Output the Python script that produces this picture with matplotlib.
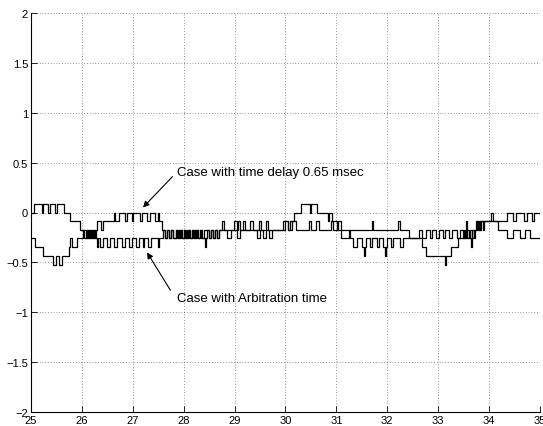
import matplotlib
matplotlib.use("Agg")
import matplotlib.pyplot as plt

# ---- data: step traces (breakpoint times, level after breakpoint) ----
delay_t = [25.00, 25.06, 25.21, 25.24, 25.34, 25.37, 25.48, 25.51, 25.64, 25.77,
           25.96, 26.08, 26.10, 26.14, 26.16, 26.20, 26.22, 26.25, 26.27, 26.29,
           26.37, 26.41, 26.64, 26.66, 26.72, 26.85, 26.88, 26.98, 27.01, 27.15,
           27.18, 27.28, 27.34, 27.44, 27.50, 27.52, 27.58, 27.64, 27.68, 27.72,
           27.75, 27.80, 27.84, 27.88, 27.91, 27.96, 28.00, 28.04, 28.07, 28.12,
           28.16, 28.20, 28.23, 28.28, 28.32, 28.36, 28.39, 28.50, 28.54, 28.58,
           28.61, 28.66, 28.70, 28.76, 28.80, 28.99, 29.04, 29.07, 29.11, 29.16,
           29.20, 29.30, 29.36, 29.47, 29.51, 29.62, 29.66, 29.95, 30.05, 30.08,
           30.16, 30.30, 30.48, 30.51, 30.62, 30.83, 30.86, 30.92, 31.02, 31.04,
           31.09, 31.24, 31.27, 31.33, 31.40, 31.50, 31.54, 31.56, 31.58, 31.66,
           31.70, 31.79, 31.83, 31.92, 31.95, 31.97, 31.99, 32.08, 32.12, 32.25,
           32.31, 32.69, 32.76, 33.13, 33.155, 33.25, 33.38, 33.50, 33.53, 33.57,
           33.60, 33.64, 33.66, 33.70, 33.72, 33.76, 33.80, 33.82, 33.88, 33.90,
           34.04, 34.08, 34.36, 34.47, 34.52, 34.68, 34.74, 34.84, 34.88, 35.00]
delay_v = [0.00, 0.09, 0.00, 0.09, 0.00, 0.09, 0.00, 0.09, 0.00, -0.09,
           -0.18, -0.26, -0.18, -0.26, -0.18, -0.26, -0.18, -0.26, -0.18, -0.09,
           -0.18, -0.09, 0.00, -0.09, 0.00, -0.09, 0.00, -0.09, 0.00, -0.09,
           0.00, -0.09, 0.00, -0.09, 0.00, -0.09, -0.18, -0.26, -0.18, -0.26,
           -0.18, -0.26, -0.18, -0.26, -0.18, -0.26, -0.18, -0.26, -0.18, -0.26,
           -0.18, -0.26, -0.18, -0.26, -0.18, -0.26, -0.18, -0.26, -0.18, -0.26,
           -0.18, -0.26, -0.18, -0.09, -0.18, -0.09, -0.18, -0.09, -0.18, -0.09,
           -0.18, -0.09, -0.18, -0.09, -0.18, -0.09, -0.18, -0.09, -0.18, -0.09,
           0.00, 0.09, 0.00, 0.09, 0.00, -0.09, 0.00, -0.09, -0.18, -0.09,
           -0.26, -0.18, -0.26, -0.35, -0.26, -0.35, -0.44, -0.35, -0.26, -0.35,
           -0.26, -0.35, -0.26, -0.35, -0.44, -0.35, -0.26, -0.35, -0.26, -0.35,
           -0.26, -0.35, -0.44, -0.53, -0.44, -0.35, -0.26, -0.18, -0.26, -0.18,
           -0.26, -0.35, -0.18, -0.26, -0.18, -0.09, -0.18, -0.09, -0.18, -0.09,
           0.00, -0.09, 0.00, -0.09, 0.00, -0.09, 0.00, -0.09, 0.00, 0.00]

arb_t = [25.00, 25.08, 25.23, 25.43, 25.49, 25.55, 25.61, 25.74, 25.76, 25.81,
         25.91, 26.02, 26.05, 26.11, 26.13, 26.17, 26.19, 26.23, 26.25, 26.30,
         26.32, 26.36, 26.42, 26.50, 26.56, 26.64, 26.70, 26.78, 26.84, 26.92,
         26.98, 27.06, 27.12, 27.20, 27.23, 27.30, 27.36, 27.50, 27.52, 27.60,
         27.63, 27.68, 27.71, 27.76, 27.79, 27.84, 27.87, 27.92, 27.95, 28.00,
         28.03, 28.08, 28.11, 28.16, 28.19, 28.24, 28.27, 28.32, 28.35, 28.41,
         28.43, 28.46, 28.49, 28.54, 28.57, 28.62, 28.65, 28.70, 28.86, 28.93,
         29.05, 29.10, 29.45, 29.50, 29.56, 29.61, 29.68, 29.74, 30.00, 30.05,
         30.12, 30.20, 30.46, 30.51, 30.60, 30.65, 30.89, 30.94, 31.70, 31.72,
         32.22, 32.24, 32.43, 32.62, 32.69, 32.76, 32.83, 32.88, 32.96, 33.02,
         33.10, 33.14, 33.22, 33.28, 33.36, 33.42, 33.48, 33.54, 33.56, 33.62,
         33.66, 33.70, 33.74, 33.78, 33.84, 34.17, 34.36, 34.47, 34.60, 34.70,
         34.80, 35.00]
arb_v = [-0.26, -0.35, -0.44, -0.53, -0.44, -0.53, -0.44, -0.35, -0.26, -0.35,
         -0.26, -0.18, -0.26, -0.18, -0.26, -0.18, -0.26, -0.18, -0.26, -0.35,
         -0.26, -0.35, -0.26, -0.35, -0.26, -0.35, -0.26, -0.35, -0.26, -0.35,
         -0.26, -0.35, -0.26, -0.35, -0.26, -0.35, -0.26, -0.35, -0.26, -0.18,
         -0.26, -0.18, -0.26, -0.18, -0.26, -0.18, -0.26, -0.18, -0.26, -0.18,
         -0.26, -0.18, -0.26, -0.18, -0.26, -0.18, -0.26, -0.18, -0.26, -0.35,
         -0.26, -0.18, -0.26, -0.18, -0.26, -0.18, -0.26, -0.18, -0.26, -0.18,
         -0.26, -0.18, -0.26, -0.18, -0.26, -0.18, -0.26, -0.18, -0.09, -0.18,
         -0.09, -0.18, -0.09, -0.18, -0.09, -0.18, -0.09, -0.18, -0.09, -0.18,
         -0.09, -0.18, -0.26, -0.18, -0.26, -0.18, -0.26, -0.18, -0.26, -0.18,
         -0.26, -0.18, -0.26, -0.18, -0.26, -0.18, -0.26, -0.09, -0.26, -0.18,
         -0.26, -0.18, -0.09, -0.18, -0.09, -0.18, -0.26, -0.18, -0.26, -0.18,
         -0.26, -0.26]

x_ticks = [25, 26, 27, 28, 29, 30, 31, 32, 33, 34, 35]
y_ticks = [-2, -1.5, -1, -0.5, 0, 0.5, 1, 1.5, 2]
y_tick_labels = ["\u22122", "\u22121.5", "\u22121", "\u22120.5", "0", "0.5", "1", "1.5", "2"]

label_delay = "Case with time delay 0.65 msec"
label_arb = "Case with Arbitration time"

plt.rcParams['font.family'] = ['Liberation Sans', 'DejaVu Sans']

fig = plt.figure(figsize=(5.43, 4.27), dpi=100)
ax = fig.add_axes([0.057, 0.033, 0.9375, 0.934])

ax.plot(delay_t, delay_v, drawstyle='steps-post', color='black', lw=0.9)
ax.plot(arb_t, arb_v, drawstyle='steps-post', color='black', lw=0.9)

ax.set_xlim(25, 35)
ax.set_ylim(-2, 2)
ax.set_xticks(x_ticks)
ax.set_xticklabels([str(v) for v in x_ticks])
ax.set_yticks(y_ticks)
ax.set_yticklabels(y_tick_labels)
ax.tick_params(direction='in', length=4, width=0.6, labelsize=8, pad=2)
ax.grid(True, color='#333333', linestyle=(0, (1, 3)), linewidth=0.5)
for s in ['top', 'right']:
    ax.spines[s].set_visible(False)
for s in ['left', 'bottom']:
    ax.spines[s].set_linewidth(0.8)

arrow_style = dict(arrowstyle='-|>', color='black', lw=0.8,
                   mutation_scale=9, shrinkA=0, shrinkB=0)
ax.annotate('', xy=(27.20, 0.05), xytext=(27.78, 0.36), arrowprops=arrow_style)
ax.annotate('', xy=(27.28, -0.40), xytext=(27.74, -0.78), arrowprops=arrow_style)
ax.text(27.87, 0.41, label_delay, fontsize=9.5, va='center', ha='left')
ax.text(27.87, -0.86, label_arb, fontsize=9.5, va='center', ha='left')

fig.savefig("out.png", dpi=100)
